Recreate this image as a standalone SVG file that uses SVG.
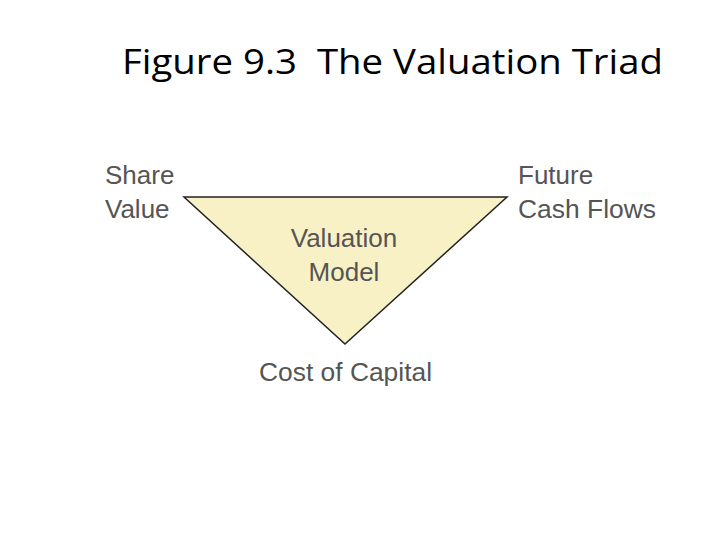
<svg xmlns="http://www.w3.org/2000/svg" width="720" height="540" viewBox="0 0 720 540">
<style>
.title{font-family:"Open Sans","Noto Sans",sans-serif;font-size:35px;fill:#000;white-space:pre}
.lbl{font-family:"Liberation Sans",Arial,sans-serif;font-size:26px;fill:#555}
</style>
<rect width="720" height="540" fill="#fff"/>
<text class="title" x="122" y="74" textLength="541" lengthAdjust="spacingAndGlyphs">Figure 9.3&#160;&#160;The Valuation Triad</text>
<g id="model">
<polygon points="184,197 507,197 345,344" fill="#f9f1c6" stroke="#222" stroke-width="1.5" stroke-linejoin="miter"/>
<text class="lbl" x="344" y="247" text-anchor="middle">Valuation</text>
<text class="lbl" x="344" y="281" text-anchor="middle">Model</text>
</g>
<g id="share-value">
<text class="lbl" x="105" y="184">Share</text>
<text class="lbl" x="105" y="218">Value</text>
</g>
<g id="future-cash-flows">
<text class="lbl" x="518" y="184">Future</text>
<text class="lbl" x="518" y="218" textLength="138" lengthAdjust="spacingAndGlyphs">Cash Flows</text>
</g>
<g id="cost-of-capital">
<text class="lbl" x="259" y="381" textLength="173" lengthAdjust="spacingAndGlyphs">Cost of Capital</text>
</g>
<g id="connectors"></g>
</svg>
